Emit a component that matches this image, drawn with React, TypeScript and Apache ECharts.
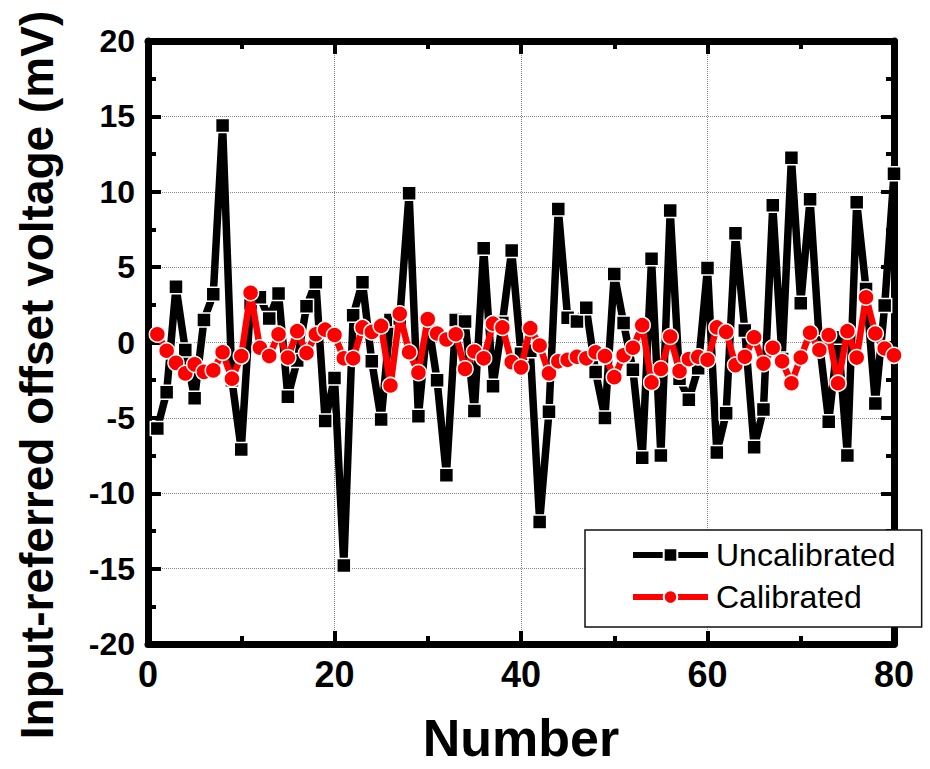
import React, { useEffect, useRef } from "react";
import * as echarts from "echarts";

const uncalibrated = [
  -5.7, -3.3, 3.7, -0.5, -3.7, 1.5, 3.2, 14.4, -2.5, -7.1,
  2.6, 3.0, 1.6, 3.25, -3.6, -1.2, 2.4, 4.0, -5.2, -2.35,
  -14.8, 1.8, 4.0, -1.25, -5.1, 1.5, 1.6, 9.9, -4.9, 1.55,
  -2.5, -8.8, 1.5, 1.4, -4.55, 6.25, -2.9, 1.3, 6.1, -0.75,
  -0.55, -11.9, -4.6, 8.85, 1.65, 1.4, 2.3, -1.95, -5.0, 4.55,
  1.3, -1.8, -7.65, 5.55, -7.5, 8.75, -2.4, -3.8, -1.7, 4.95,
  -7.3, -4.7, 7.25, 0.8, -6.95, -4.45, 9.1, -1.1, 12.25, 2.6,
  9.5, 0.0, -5.25, 0.35, -7.5, 9.3, 3.55, -4.05, 2.45, 11.2,
];

const calibrated = [
  0.55, -0.55, -1.35, -2.05, -1.45, -1.95, -1.85, -0.65, -2.4, -0.9,
  3.3, -0.35, -0.9, 0.55, -1.0, 0.75, -0.7, 0.55, 0.85, 0.5,
  -1.05, -1.05, 1.0, 0.7, 1.1, -2.85, 1.9, -0.65, -2.0, 1.55,
  0.6, 0.2, 0.55, -1.75, -0.6, -1.05, 1.25, 1.0, -1.3, -1.65,
  0.95, -0.2, -2.05, -1.25, -1.15, -0.95, -1.05, -0.65, -0.9, -2.3,
  -0.85, -0.35, 1.15, -2.65, -1.75, 0.4, -1.9, -1.1, -0.95, -1.15,
  1.0, 0.7, -1.5, -0.95, 0.35, -1.4, -0.35, -1.25, -2.7, -1.0,
  0.65, -0.5, 0.5, -2.7, 0.75, -1.0, 3.0, 0.6, -0.4, -0.85,
];

const numbers = uncalibrated.map((_, i) => i + 1);

const FONT = "'Liberation Sans', Arial, sans-serif";

export default function App() {
  const ref = useRef<HTMLDivElement>(null);

  useEffect(() => {
    if (!ref.current) return;
    const chart = echarts.init(ref.current, undefined, { renderer: "svg" });

    const frameAxisLine = () => ({ show: true, onZero: false, lineStyle: { color: "#000", width: 7 } });
    const tick = () => ({ show: true, inside: true, length: 13, lineStyle: { color: "#000", width: 4 } });
    const minor = () => ({ show: true, splitNumber: 2, length: 8, lineStyle: { color: "#000", width: 4 } });

    chart.setOption({
      animation: false,
      backgroundColor: "#fff",
      grid: { left: 148, right: 36, top: 41, bottom: 119.5, containLabel: false },
      legend: {
        orient: "vertical",
        left: 585,
        top: 530,
        padding: [7, 26, 12, 45],
        itemGap: 6,
        itemWidth: 75,
        itemHeight: 17,
        backgroundColor: "#fff",
        borderColor: "#111",
        borderWidth: 1.5,
        lineStyle: { width: 6 },
        textStyle: { fontFamily: FONT, fontSize: 32, color: "#000", lineHeight: 36, padding: [0, 0, 0, 3] },
        data: ["Uncalibrated", "Calibrated"],
      },
      xAxis: [
        {
          type: "value",
          min: 0,
          max: 80,
          interval: 20,
          position: "bottom",
          name: "Number",
          nameLocation: "middle",
          nameGap: 94,
          nameTextStyle: { fontFamily: FONT, fontSize: 52, fontWeight: "bold", color: "#000", verticalAlign: "middle" },
          axisLine: frameAxisLine(),
          axisTick: tick(),
          minorTick: minor(),
          axisLabel: { fontFamily: FONT, fontSize: 36, fontWeight: "bold", color: "#000", margin: 12 },
          splitLine: { show: true, lineStyle: { color: "#888", type: "dotted", width: 1 } },
        },
        {
          type: "value",
          min: 0,
          max: 80,
          interval: 20,
          position: "top",
          axisLine: frameAxisLine(),
          axisTick: tick(),
          minorTick: minor(),
          axisLabel: { show: false },
          splitLine: { show: false },
        },
      ],
      yAxis: [
        {
          type: "value",
          min: -20,
          max: 20,
          interval: 5,
          position: "left",
          axisLine: frameAxisLine(),
          axisTick: tick(),
          minorTick: minor(),
          axisLabel: { fontFamily: FONT, fontSize: 32, fontWeight: "bold", color: "#000", margin: 13 },
          splitLine: { show: true, lineStyle: { color: "#888", type: "dotted", width: 1 } },
        },
        {
          type: "value",
          min: -20,
          max: 20,
          interval: 5,
          position: "right",
          axisLine: frameAxisLine(),
          axisTick: tick(),
          minorTick: minor(),
          axisLabel: { show: false },
          splitLine: { show: false },
        },
      ],
      graphic: [
        {
          type: "text",
          x: 37,
          y: 375,
          rotation: Math.PI / 2,
          style: {
            text: "Input-referred offset voltage (mV)",
            fontFamily: FONT,
            fontSize: 46,
            fontWeight: "bold",
            fill: "#000",
            align: "center",
            verticalAlign: "middle",
          },
        },
      ],
      series: [
        {
          name: "Uncalibrated",
          type: "line",
          xAxisIndex: 0,
          yAxisIndex: 0,
          data: numbers.map((n, i) => [n, uncalibrated[i]]),
          symbol: "rect",
          symbolSize: 14,
          lineStyle: { color: "#000", width: 7.5 },
          itemStyle: { color: "#000", borderColor: "#fff", borderWidth: 1.5 },
          z: 3,
        },
        {
          name: "Calibrated",
          type: "line",
          xAxisIndex: 0,
          yAxisIndex: 0,
          data: numbers.map((n, i) => [n, calibrated[i]]),
          symbol: "circle",
          symbolSize: 16,
          lineStyle: { color: "#ff0000", width: 6.5 },
          itemStyle: { color: "#ff0000", borderColor: "#fff", borderWidth: 1.5 },
          z: 4,
        },
      ],
    });

    return () => chart.dispose();
  }, []);

  return (
    <div
      ref={ref}
      style={{ position: "absolute", left: 0, top: 0, width: 930, height: 769, background: "#fff" }}
    />
  );
}
